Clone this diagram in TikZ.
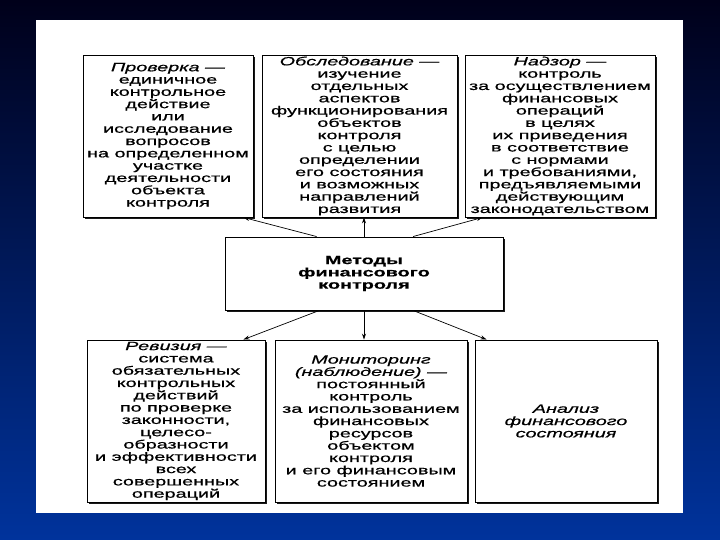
\documentclass[tikz,border=0pt]{standalone}
\usepackage{fontspec}
\setmainfont{Liberation Sans}[FakeStretch=1.65, FakeBold=0.7]
\usetikzlibrary{arrows.meta,shadows,calc}
\definecolor{bgtop}{HTML}{00001A}
\definecolor{bgbot}{HTML}{00339C}
\begin{document}
\begin{tikzpicture}[x=1pt,y=-1pt,
  box/.style={draw=black, line width=0.9pt, fill=white, align=center, inner sep=1pt,
    font=\fontsize{12}{12.3}\selectfont,
    drop shadow={shadow xshift=2.2pt, shadow yshift=-2.2pt, fill=black, opacity=0.9}},
  arr/.style={-{Stealth[length=6pt,width=4pt]}, line width=0.7pt}]
\useasboundingbox (0,0) rectangle (720,540);
\shade[top color=bgtop, bottom color=bgbot] (0,0) rectangle (720,540);
\fill[white] (36,20) rectangle (683,513);

\node[box, minimum width=170pt, minimum height=162pt] (tl) at (168,136)
  {\textit{Проверка —}\\единичное\\контрольное\\действие\\или\\исследование\\вопросов\\на определенном\\участке\\деятельности\\объекта\\контроля};
\node[box, minimum width=195pt, minimum height=162pt] (tm) at (359.5,136)
  {\textit{Обследование —}\\изучение\\отдельных\\аспектов\\функционирования\\объектов\\контроля\\с целью\\определении\\его состояния\\и возможных\\направлений\\развития};
\node[box, minimum width=190pt, minimum height=162pt] (tr) at (560,136)
  {\textit{Надзор —}\\контроль\\за осуществлением\\финансовых\\операций\\в целях\\их приведения\\в соответствие\\с нормами\\и требованиями,\\предъявляемыми\\действующим\\законодательством};

\node[box, minimum width=278pt, minimum height=73pt, font=\fontsize{12}{12.3}\selectfont\bfseries] (c) at (364,273.5)
  {Методы\\финансового\\контроля};

\node[box, minimum width=178pt, minimum height=162pt] (bl) at (176,421)
  {\textit{Ревизия —}\\система\\обязательных\\контрольных\\действий\\по проверке\\законности,\\целесо-\\образности\\и эффективности\\всех\\совершенных\\операций};
\node[box, minimum width=192pt, minimum height=162pt] (bm) at (371,421)
  {\textit{Мониторинг}\\\textit{(наблюдение) —}\\постоянный\\контроль\\за использованием\\финансовых\\ресурсов\\объектом\\контроля\\и его финансовым\\состоянием};
\node[box, minimum width=182pt, minimum height=162pt] (br) at (566,421)
  {\textit{Анализ}\\\textit{финансового}\\\textit{состояния}};

\draw[arr] ($(c.north west)!0.33!(c.north east)$) -- ($(tl.south east)+(-10,0)$);
\draw[arr] (c.north) -- (c.north |- tm.south);
\draw[arr] ($(c.north west)!0.676!(c.north east)$) -- ($(tr.south west)+(18,0)$);
\draw[arr] ($(c.south west)!0.34!(c.south east)$) -- ($(bl.north east)+(-22,0)$);
\draw[arr] (c.south) -- (c.south |- bm.north);
\draw[arr] ($(c.south west)!0.676!(c.south east)$) -- ($(br.north west)+(12,0)$);
\end{tikzpicture}
\end{document}
